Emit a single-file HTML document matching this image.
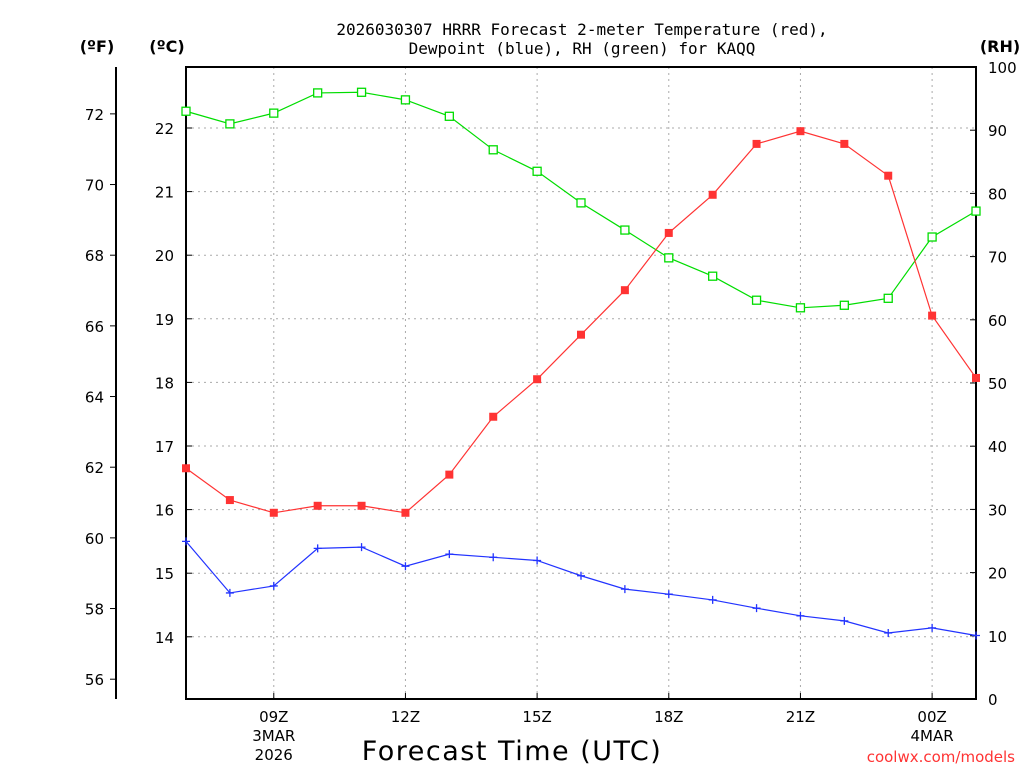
<!DOCTYPE html>
<html><head><meta charset="utf-8"><style>
html,body{margin:0;padding:0;background:#fff;width:1024px;height:768px;overflow:hidden}
svg text{font-family:"DejaVu Sans","Liberation Sans",sans-serif}
</style></head><body>
<svg id="c" width="1024" height="768" xmlns="http://www.w3.org/2000/svg">
<text x="582" y="35" font-size="16" text-anchor="middle" style="font-family:'DejaVu Sans Mono','Liberation Mono',monospace">2026030307 HRRR Forecast 2-meter Temperature (red),</text>
<text x="582" y="54" font-size="16" text-anchor="middle" style="font-family:'DejaVu Sans Mono','Liberation Mono',monospace">Dewpoint (blue), RH (green) for KAQQ</text>
<text x="97" y="52" font-size="16" font-weight="bold" text-anchor="middle">(ºF)</text>
<text x="167" y="52" font-size="16" font-weight="bold" text-anchor="middle">(ºC)</text>
<text x="1000" y="52" font-size="16" font-weight="bold" text-anchor="middle">(RH)</text>
<text x="512" y="760" font-size="27" text-anchor="middle" letter-spacing="1.5">Forecast Time (UTC)</text>
<text x="1015" y="762" font-size="15" fill="#ff3333" text-anchor="end">coolwx.com/models</text>
<g id="g"></g>
</svg>
<script>
const hours = [7,8,9,10,11,12,13,14,15,16,17,18,19,20,21,22,23,24,25];
const tempC = [16.65,16.15,15.95,16.06,16.06,15.95,16.55,17.46,18.05,18.75,19.45,20.35,20.95,21.75,21.95,21.75,21.25,19.05,18.07];
const dewC = [15.5,14.69,14.8,15.39,15.41,15.11,15.3,15.25,15.2,14.96,14.75,14.67,14.58,14.45,14.33,14.25,14.06,14.14,14.02];
const rh = [93.0,91.0,92.7,95.9,96.0,94.8,92.2,86.9,83.5,78.5,74.2,69.8,66.9,63.1,61.9,62.3,63.4,73.1,77.2];
const cTicks = [14,15,16,17,18,19,20,21,22];
const fTicks = [56,58,60,62,64,66,68,70,72];
const rhTicks = [0,10,20,30,40,50,60,70,80,90,100];
const xTickHours = [9,12,15,18,21,24];
const xTickLabels = ["09Z","12Z","15Z","18Z","21Z","00Z"];

const NS="http://www.w3.org/2000/svg", g=document.getElementById('g');
const L=186,R=976,T=67,B=699;
const x=h=>L+(h-7)*(R-L)/18;
const yC=c=>128+(22-c)*63.6;
const yF=f=>yC((f-32)*5/9);
const yR=r=>B-r*(B-T)/100;
function el(t,a,p){const e=document.createElementNS(NS,t);for(const k in a)e.setAttribute(k,a[k]);(p||g).appendChild(e);return e;}
cTicks.forEach(c=>{const e=el('line',{x1:L,x2:R,y1:yC(c),y2:yC(c),stroke:'#aaa','stroke-dasharray':'2,4'});

});
xTickHours.forEach((h,i)=>{const e=el('line',{x1:x(h),x2:x(h),y1:T,y2:B,stroke:'#aaa','stroke-dasharray':'2,4'});


const t=el('text',{x:x(h),y:722,'font-size':15,'text-anchor':'middle'});t.textContent=xTickLabels[i];


el('line',{x1:x(h),x2:x(h),y1:B,y2:B-6,stroke:'#000'});});
[["3MAR",x(9),741],["2026",x(9),760],["4MAR",x(24),741]].forEach(a=>{const t=el('text',{x:a[1],y:a[2],'font-size':15,'text-anchor':'middle'});t.textContent=a[0];

});
const fr=el('rect',{x:L,y:T,width:R-L,height:B-T,fill:'none',stroke:'#000','stroke-width':2});


const fa=el('line',{x1:116,x2:116,y1:T,y2:B,stroke:'#000','stroke-width':2});


cTicks.forEach(c=>{el('line',{x1:L,x2:L+6,y1:yC(c),y2:yC(c),stroke:'#000'});
const t=el('text',{x:174,y:yC(c)+6,'font-size':15,'text-anchor':'end'});t.textContent=c;

});
fTicks.forEach(f=>{el('line',{x1:116,x2:110,y1:yF(f),y2:yF(f),stroke:'#000'});
const t=el('text',{x:104,y:yF(f)+6,'font-size':15,'text-anchor':'end'});t.textContent=f;

});
rhTicks.forEach(r=>{el('line',{x1:R,x2:R-6,y1:yR(r),y2:yR(r),stroke:'#000'});
const t=el('text',{x:988,y:yR(r)+6,'font-size':15});t.textContent=r;

});
function series(vals,yf,col,name,mk){
const p=el('polyline',{points:vals.map((v,i)=>x(hours[i])+','+yf(v)).join(' '),fill:'none',stroke:col,'stroke-width':1.2});


vals.forEach((v,i)=>{const cx=x(hours[i]),cy=yf(v);let m;
if(mk==='fill')m=el('rect',{x:cx-4,y:cy-4,width:8,height:8,fill:col});
else if(mk==='open')m=el('rect',{x:cx-4,y:cy-4,width:8,height:8,fill:'#fff',stroke:col,'stroke-width':1.3});
else m=el('path',{d:`M${cx-4} ${cy}H${cx+4}M${cx} ${cy-4}V${cy+4}`,stroke:col,'stroke-width':1.3});

});}
series(rh,yR,'#00dd00','rh','open');
series(dewC,yC,'#2233ff','dewpoint','plus');
series(tempC,yC,'#ff3333','temperature','fill');
</script>
</body></html>
